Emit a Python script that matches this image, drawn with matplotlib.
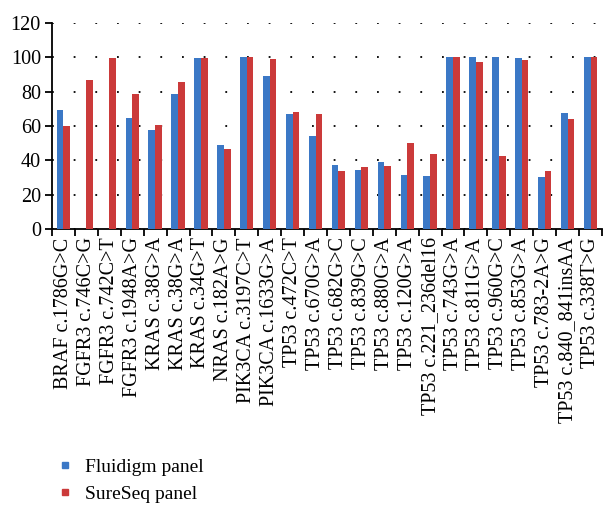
import numpy as np
import matplotlib
matplotlib.use("Agg")
import matplotlib.pyplot as plt
from matplotlib.lines import Line2D

# mutation labels
labels = ["BRAF c.1786G>C", "FGFR3 c.746C>G", "FGFR3 c.742C>T", "FGFR3 c.1948A>G",
          "KRAS c.38G>A", "KRAS c.38G>A", "KRAS c.34G>T", "NRAS c.182A>G",
          "PIK3CA c.3197C>T", "PIK3CA c.1633G>A", "TP53 c.472C>T", "TP53 c.670G>A",
          "TP53 c.682G>C", "TP53 c.839G>C", "TP53 c.880G>A", "TP53 c.120G>A",
          "TP53 c.221_236del16", "TP53 c.743G>A", "TP53 c.811G>A", "TP53 c.960G>C",
          "TP53 c.853G>A", "TP53 c.783-2A>G", "TP53 c.840_841insAA", "TP53 c.338T>G"]
fluidigm = [69.6, 0, 0, 64.4, 57.4, 78.9, 99.8, 48.9, 100, 89.2, 66.7, 54.0,
            37.3, 34.6, 38.9, 31.5, 31.1, 100, 100, 100, 99.6, 30.0, 67.7, 100]
sureseq = [60.2, 87.0, 99.6, 78.5, 60.7, 85.7, 99.8, 46.4, 100, 99.0, 67.9, 67.1,
           33.5, 36.2, 36.6, 50.1, 43.9, 100, 97.3, 42.4, 98.6, 33.5, 64.0, 100]
series_names = ["Fluidigm panel", "SureSeq panel"]

blue = "#3B78C6"
red = "#CB3A3A"
serif = ["Liberation Serif", "DejaVu Serif"]

fig = plt.figure(figsize=(6.16, 5.22), dpi=100)
ax = fig.add_axes([52/616, 1 - 229/522, 550/616, 206/522])

x = np.arange(len(labels))
w = 0.29
ax.bar(x - w/2, fluidigm, w, color=blue, zorder=3)
ax.bar(x + w/2, sureseq, w, color=red, zorder=3)

ax.set_xlim(-0.5, len(labels) - 0.5)
ax.set_ylim(0, 120)
ax.set_yticks(np.arange(0, 121, 20))
ax.yaxis.grid(True, color="black", linestyle=(0, (1, 11)), linewidth=1.3, zorder=0)
ax.spines["top"].set_visible(False)
ax.spines["right"].set_visible(False)
ax.spines["left"].set_linewidth(1.3)
ax.spines["bottom"].set_linewidth(1.3)

ax.set_xticks(x)
ax.set_xticklabels(labels, rotation=90, fontsize=14.5, family=serif)
ax.tick_params(axis="x", which="major", length=0, pad=6)
ax.set_xticks(np.arange(-0.5, len(labels), 1), minor=True)
ax.tick_params(axis="x", which="minor", length=5, width=1.3, direction="out")
ax.tick_params(axis="y", length=5, width=1.3, direction="out", pad=3)
for t in ax.get_yticklabels():
    t.set_family(serif)
    t.set_fontsize(14.5)

handles = [Line2D([], [], marker="s", linestyle="", color=blue, markersize=5),
           Line2D([], [], marker="s", linestyle="", color=red, markersize=5)]
fig.legend(handles, series_names, loc="upper left", bbox_to_anchor=(0.065, 0.155),
           frameon=False, prop={"family": serif, "size": 14}, handletextpad=0.6,
           labelspacing=0.45, handlelength=0.8)

fig.savefig("out.png", dpi=100)
